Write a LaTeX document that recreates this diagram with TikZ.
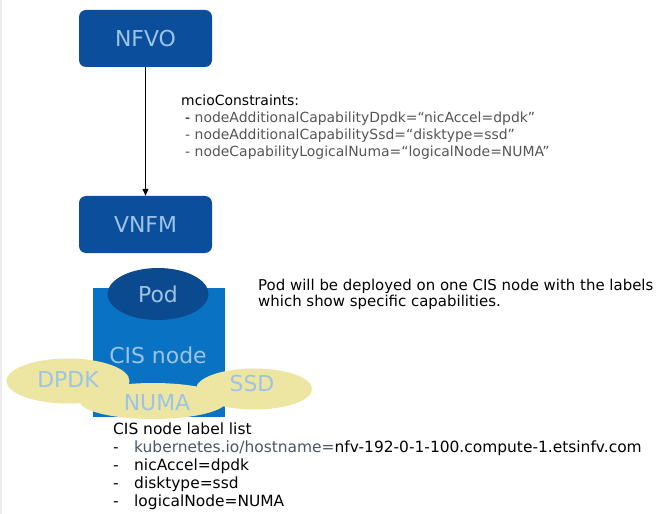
\documentclass[tikz,border=0pt]{standalone}
\usepackage{fontspec}
\setmainfont{DejaVu Sans}
\usetikzlibrary{shapes.geometric,arrows.meta}
\definecolor{boxblue}{HTML}{0B4F9C}
\definecolor{cisblue}{HTML}{0A72C2}
\definecolor{podblue}{HTML}{0B4A8E}
\definecolor{lbltxt}{HTML}{9DC3E6}
\definecolor{yel}{HTML}{EDE5A2}
\definecolor{itemgray}{HTML}{555555}
\definecolor{slate}{HTML}{4A5568}
\tikzset{
  mgmt/.style={draw=none,fill=boxblue,rounded corners=7bp,minimum width=133bp,minimum height=57bp,inner sep=0pt,text=lbltxt,font=\fontsize{22}{26}\selectfont},
  bigtxt/.style={text=lbltxt,font=\fontsize{22}{26}\selectfont,inner sep=0pt},
  yelov/.style={ellipse,fill=yel,draw=none,inner sep=0pt},
  constxt/.style={font=\fontsize{14}{17}\selectfont,inner sep=0pt,anchor=base west},
  expltxt/.style={font=\fontsize{15}{17}\selectfont,inner sep=0pt,anchor=base west},
  listtxt/.style={font=\fontsize{15.5}{19}\selectfont,inner sep=0pt,anchor=base west},
}
\begin{document}
\begin{tikzpicture}[x=1bp,y=-1bp]
\useasboundingbox (0,0) rectangle (666,514);
\fill[white] (0,0) rectangle (666,514);
\draw[line width=2.5bp,color=gray!15] (1.2,0) -- (1.2,514);
% management boxes
\node[mgmt] (nfvo) at (145.5,38.5) {NFVO};
\node[mgmt] (vnfm) at (145.5,224.5) {VNFM};
\draw[line width=0.8bp,-{Triangle[width=6bp,length=7bp]}] (nfvo.south) -- (vnfm.north);
% constraints text
\node[constxt] (c0) at (181,106) {mcioConstraints:};
\node[constxt] (c1) at (185,123) {- \textcolor{itemgray}{nodeAdditionalCapabilityDpdk=“nicAccel=dpdk”}};
\node[constxt] (c2) at (185,140) {\textcolor{itemgray}{- nodeAdditionalCapabilitySsd=“disktype=ssd”}};
\node[constxt] (c3) at (185,157) {\textcolor{itemgray}{- nodeCapabilityLogicalNuma=“logicalNode=NUMA”}};
% CIS node
\node[fill=cisblue,minimum width=132bp,minimum height=129bp,inner sep=0pt,anchor=north west] (cis) at (93,288) {};
\node[ellipse,fill=podblue,minimum width=101bp,minimum height=52bp,inner sep=0pt] (pod) at (158,294) {};
\node[bigtxt] (podt) at (pod.center) {Pod};
\node[bigtxt] (cist) at (158,355) {CIS node};
\node[yelov,minimum width=123bp,minimum height=45bp] (dpdk) at (68,381) {};
\node[yelov,minimum width=116bp,minimum height=41bp] (ssd) at (254,389) {};
\node[yelov,minimum width=147bp,minimum height=36bp] (numa) at (153,401) {};
\node[bigtxt] (dpdkt) at (68,380) {DPDK};
\node[bigtxt] (ssdt) at (252,384) {SSD};
\node[bigtxt] (numat) at (157,403) {NUMA};
% explanation text
\node[expltxt] (e1) at (258,290) {Pod will be deployed on one CIS node with the labels};
\node[expltxt] (e2) at (258,306) {which show specific capabilities.};
% label list
\node[listtxt] (l0) at (113,434) {CIS node label list};
\node[listtxt] (l1) at (113,452) {\makebox[21bp][l]{-}\textcolor{slate}{kubernetes.io/hostname=}nfv-192-0-1-100.compute-1.etsinfv.com};
\node[listtxt] (l2) at (113,470) {\makebox[21bp][l]{-}nicAccel=dpdk};
\node[listtxt] (l3) at (113,488) {\makebox[21bp][l]{-}disktype=ssd};
\node[listtxt] (l4) at (113,506) {\makebox[21bp][l]{-}logicalNode=NUMA};
\end{tikzpicture}
\end{document}
